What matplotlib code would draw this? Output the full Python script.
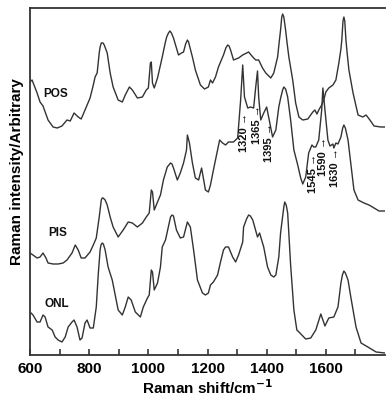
import matplotlib
matplotlib.use("Agg")
import matplotlib.pyplot as plt

plt.rcParams['font.family'] = ['Liberation Sans', 'DejaVu Sans']
plt.rcParams['font.weight'] = 'bold'

# ---- data (wavenumber, arbitrary intensity) ----
pos_x = [600, 607, 624, 634, 644, 661, 678, 692, 708, 725, 736, 749, 763, 773, 786, 803, 814, 820, 827, 834,
         837, 841, 847, 851, 856, 861, 871, 881, 898, 912, 922, 936, 946, 963, 980, 993, 1000, 1007, 1010, 1014,
         1020, 1031, 1041, 1047, 1057, 1062, 1068, 1073, 1078, 1085, 1092, 1102, 1112, 1119, 1126, 1132, 1136, 1142,
         1149, 1159, 1176, 1190, 1203, 1210, 1217, 1227, 1237, 1254, 1262, 1268, 1273, 1278, 1288, 1305, 1319, 1339,
         1353, 1363, 1373, 1386, 1397, 1414, 1424, 1437, 1442, 1447, 1451, 1454, 1458, 1464, 1469, 1475, 1488, 1498,
         1509, 1522, 1539, 1556, 1563, 1570, 1576, 1586, 1593, 1600, 1610, 1624, 1634, 1644, 1651, 1654, 1658, 1661,
         1664, 1668, 1672, 1678, 1692, 1709, 1725, 1736, 1749, 1763, 1786, 1800]
pos_y = [273, 275, 262, 253, 249, 235, 228, 227, 229, 235, 234, 242, 238, 236, 245, 257, 270, 278, 282, 302,
         308, 312, 312, 310, 306, 302, 282, 268, 255, 253, 260, 268, 265, 257, 258, 265, 267, 292, 293, 272,
         267, 277, 290, 298, 312, 318, 322, 324, 322, 317, 310, 300, 302, 303, 311, 315, 313, 306,
         298, 285, 270, 266, 268, 275, 272, 278, 288, 300, 307, 310, 309, 305, 295, 297, 300, 303,
         298, 295, 295, 287, 282, 277, 282, 298, 312, 325, 338, 341, 338, 325, 312, 298, 275, 252,
         238, 235, 236, 243, 245, 241, 245, 250, 255, 263, 267, 270, 275, 292, 306, 315, 334, 338,
         334, 315, 302, 285, 262, 240, 238, 240, 235, 229, 228, 228]

pis_x = [600, 610, 624, 634, 644, 654, 661, 678, 695, 712, 725, 742, 753, 763, 773, 786, 803, 814, 824, 834,
         841, 844, 847, 854, 861, 871, 881, 898, 915, 932, 946, 963, 980, 993, 1003, 1010, 1014, 1020, 1031, 1041,
         1051, 1064, 1075, 1080, 1085, 1098, 1108, 1119, 1129, 1132, 1139, 1149, 1159, 1170, 1180, 1183, 1193, 1203,
         1210, 1220, 1234, 1241, 1251, 1261, 1271, 1288, 1302, 1312, 1319, 1325, 1336, 1346, 1356, 1363, 1369, 1373,
         1380, 1390, 1400, 1410, 1420, 1431, 1441, 1448, 1454, 1458, 1464, 1471, 1481, 1492, 1505, 1515, 1522, 1532,
         1542, 1553, 1559, 1566, 1576, 1586, 1590, 1597, 1607, 1614, 1624, 1627, 1634, 1641, 1651, 1657, 1661, 1666,
         1675, 1685, 1695, 1709, 1729, 1746, 1763, 1780, 1800]
pis_y = [102, 100, 97, 98, 102, 97, 92, 91, 91, 92, 95, 102, 110, 105, 97, 97, 103, 110, 117, 138,
         155, 157, 157, 155, 150, 138, 128, 118, 125, 133, 132, 128, 132, 138, 142, 165, 163, 145, 153, 160,
         175, 188, 192, 191, 187, 175, 182, 192, 205, 220, 212, 192, 177, 175, 187, 182, 165, 163,
         170, 185, 205, 215, 212, 210, 213, 213, 217, 255, 290, 258, 247, 248, 247, 268, 284, 258,
         235, 242, 248, 233, 218, 225, 248, 258, 265, 268, 266, 258, 235, 205, 190, 177, 171, 178,
         202, 210, 208, 208, 215, 245, 267, 245, 215, 209, 211, 207, 212, 211, 218, 227, 230, 227,
         215, 190, 165, 155, 152, 150, 147, 144, 144]

onl_x = [600, 610, 624, 634, 644, 651, 661, 675, 685, 695, 708, 719, 729, 742, 749, 759, 769, 776, 786, 793,
         803, 814, 824, 831, 837, 840, 844, 848, 854, 864, 878, 888, 898, 912, 922, 932, 942, 956, 973, 983,
         997, 1003, 1010, 1014, 1020, 1031, 1041, 1047, 1058, 1075, 1080, 1085, 1095, 1108, 1119, 1132, 1142, 1153,
         1166, 1183, 1193, 1203, 1210, 1220, 1234, 1244, 1254, 1261, 1271, 1285, 1295, 1305, 1319, 1322, 1332, 1339,
         1345, 1353, 1369, 1376, 1390, 1403, 1414, 1424, 1431, 1441, 1447, 1458, 1461, 1466, 1471, 1481, 1492, 1502,
         1509, 1532, 1549, 1566, 1583, 1597, 1610, 1627, 1641, 1651, 1656, 1661, 1666, 1675, 1685, 1702, 1719, 1742,
         1770, 1800]
onl_y = [43, 40, 33, 33, 40, 38, 28, 25, 18, 15, 13, 18, 28, 33, 35, 28, 15, 17, 32, 35,
         27, 27, 48, 82, 105, 110, 112, 111, 105, 88, 75, 60, 45, 40, 48, 58, 55, 43, 38, 48,
         57, 60, 85, 83, 65, 72, 88, 108, 115, 138, 140, 139, 125, 117, 118, 133, 128, 105,
         75, 62, 60, 62, 70, 73, 80, 93, 105, 108, 108, 98, 93, 100, 113, 128, 136, 140,
         139, 135, 118, 122, 108, 88, 80, 78, 80, 98, 122, 148, 153, 150, 142, 90, 45, 25,
         23, 16, 17, 25, 41, 29, 37, 38, 48, 72, 80, 84, 82, 75, 57, 28, 12, 8,
         3, 2]

series_names = ["POS", "PIS", "ONL"]
name_x = [685, 695, 692]
name_y = [261, 122, 51]

peak_labels = ["1320", "1365", "1395", "1545", "1590", "1630"]
peak_lab_x = [1322, 1369, 1407, 1556, 1591, 1632]
peak_lab_y = [222, 230, 212, 182, 198, 187]

xticks_major = [600, 800, 1000, 1200, 1400, 1600]
xticks_minor = [700, 900, 1100, 1300, 1500, 1700]

# ---- figure ----
fig = plt.figure(figsize=(3.9, 4.0), dpi=100)
ax = fig.add_axes([30 / 390, 45 / 400, 355 / 390, 347 / 400])

lc = '#333333'
for xs, ys in [(pos_x, pos_y), (pis_x, pis_y), (onl_x, onl_y)]:
    ax.plot(xs, ys, color=lc, lw=1.0)

for n, x, y in zip(series_names, name_x, name_y):
    ax.text(x, y, n, fontsize=8.5, fontweight='bold', ha='center', va='center', color='#111111')

for t, x, y in zip(peak_labels, peak_lab_x, peak_lab_y):
    ax.text(x, y, t + " \u2192", fontsize=8, fontweight='bold', rotation=90,
            ha='center', va='center', color='#111111')

ax.set_xlim(600, 1800)
ax.set_ylim(0, 347)
ax.set_xticks(xticks_major)
ax.set_xticks(xticks_minor, minor=True)
ax.set_xticklabels([str(v) for v in xticks_major], fontsize=11, fontweight='bold')
ax.set_yticks([])
ax.tick_params(axis='x', which='both', direction='in', length=4, width=1.2, pad=5, colors='#333333',
               labelcolor='black')
for s in ['left', 'bottom', 'top']:
    ax.spines[s].set_linewidth(1.3)
    ax.spines[s].set_color('#333333')
ax.spines['right'].set_visible(False)

ax.set_xlabel("Raman shift/cm$^{\\mathbf{-1}}$", fontsize=11, fontweight='bold', labelpad=2)
ax.set_ylabel("Raman intensity/Arbitrary", fontsize=11, fontweight='bold')
ax.yaxis.set_label_coords(-0.018, 0.53)

fig.savefig("out.png", dpi=100)
